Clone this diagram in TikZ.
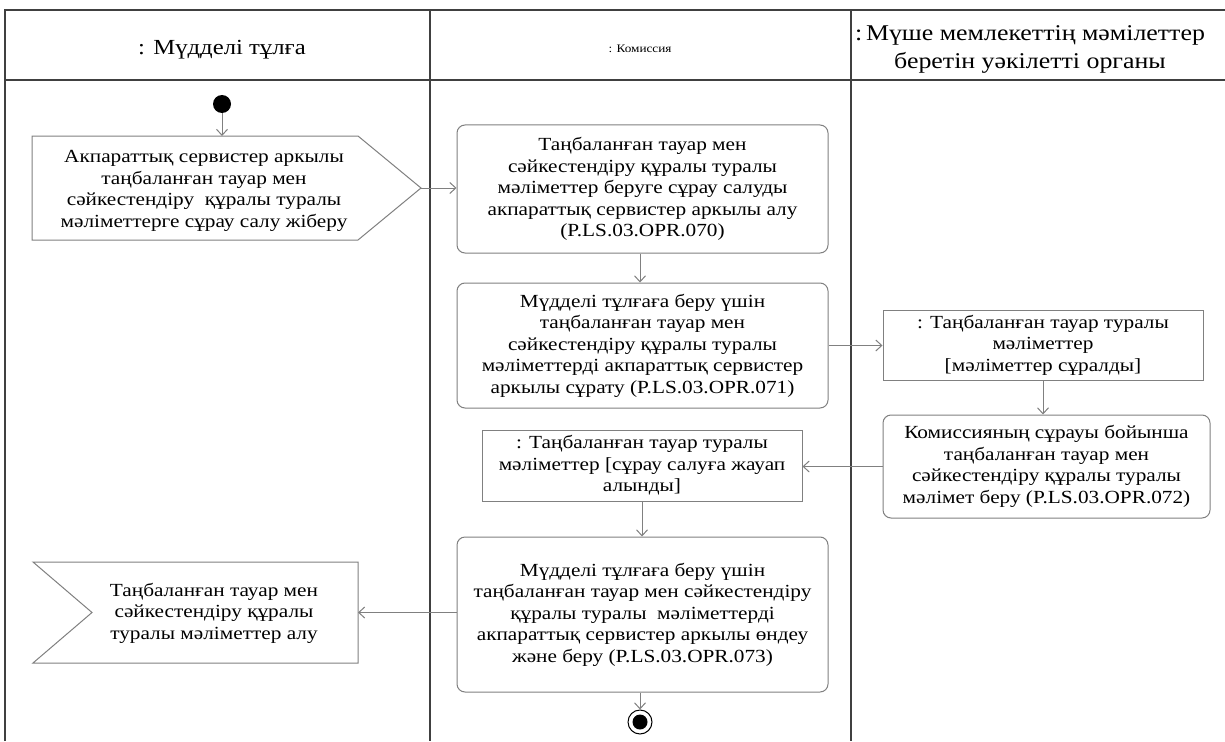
\documentclass[tikz,border=0pt]{standalone}
\usepackage{fontspec}
\setmainfont{Liberation Serif}[FakeStretch=1.15]
\usetikzlibrary{arrows.meta}
\begin{document}
\begin{tikzpicture}[x=1pt,y=-1pt,
  lane/.style={draw=black!75, line width=1.5pt},
  body/.style={align=center, font=\fontsize{18.5}{21.5}\selectfont, inner sep=0pt},
  act/.style={body, draw=black!50, line width=1pt, rounded corners=8pt},
  obj/.style={body, draw=black!50, line width=1pt},
  sig/.style={draw=black!50, line width=1pt},
  flow/.style={draw=black!50, line width=1pt, -{Straight Barb[length=6pt,width=11pt]}},
  hdr/.style={align=center, inner sep=0pt}]
\useasboundingbox (0,0) rectangle (1225,741);
\fill[white] (0,0) rectangle (1225,741);
% swimlane frame
\draw[lane] (5,741) -- (5,10) -- (1225,10);
\draw[lane] (5,80) -- (1225,80);
\draw[lane] (430,10) -- (430,741);
\draw[lane] (851,10) -- (851,741);
% headers
\node[hdr, font=\fontsize{21.5}{26}\selectfont] (h1) at (222,50) {: Мүдделі тұлға};
\node[hdr, font=\fontsize{11.5}{13}\selectfont] (h2) at (640,49) {: Комиссия};
\node[hdr, font=\fontsize{22.5}{28}\selectfont] (h3) at (1030,49) {:\,Мүше мемлекеттің мәмілеттер\\ беретін уәкілетті органы};
% start
\node[circle, fill=black, minimum size=18pt, inner sep=0pt] (start) at (222,104) {};
% send signal
\coordinate (sendtop) at (222,136);
\coordinate (sendtip) at (421,188);
\draw[sig, fill=white] (32,136) -- (358,136) -- (sendtip) -- (358,240) -- (32,240) -- cycle;
\node[body] (sendtxt) at (204,191) {Акпараттық сервистер аркылы\\ таңбаланған тауар мен\\ сәйкестендіру\ \ құралы туралы\\ мәліметтерге сұрау салу жіберу};
% receive signal
\coordinate (recvright) at (358,612.5);
\draw[sig, fill=white] (33,562) -- (358,562) -- (358,663) -- (33,663) -- (92,612.5) -- cycle;
\node[body] (recvtxt) at (214,613) {Таңбаланған тауар мен\\ сәйкестендіру құралы\\ туралы мәліметтер алу};
% activities
\node[act, minimum width=371pt, minimum height=128pt] (a1) at (642.5,189) {Таңбаланған тауар мен\\ сәйкестендіру құралы туралы\\ мәліметтер беруге сұрау салуды\\ акпараттық сервистер аркылы алу\\ (P.LS.03.OPR.070)};
\node[act, minimum width=371pt, minimum height=125pt] (a2) at (642.5,345.5) {Мүдделі тұлғаға беру үшін\\ таңбаланған тауар мен\\ сәйкестендіру құралы туралы\\ мәліметтерді акпараттық сервистер\\ аркылы сұрату (P.LS.03.OPR.071)};
\node[obj, minimum width=320pt, minimum height=70pt] (o1) at (1043,345) {: Таңбаланған тауар туралы\\ мәліметтер\\{}[мәліметтер сұралды]};
\node[act, minimum width=327pt, minimum height=103pt] (a3) at (1046.5,466.5) {Комиссияның сұрауы бойынша\\ таңбаланған тауар мен\\ сәйкестендіру құралы туралы\\ мәлімет беру (P.LS.03.OPR.072)};
\node[obj, minimum width=320pt, minimum height=71pt] (o2) at (642,465.5) {: Таңбаланған тауар туралы\\ мәліметтер [сұрау салуға жауап\\ алынды]};
\node[act, minimum width=371pt, minimum height=155pt] (a4) at (642.5,614.5) {Мүдделі тұлғаға беру үшін\\ таңбаланған тауар мен сәйкестендіру\\ құралы туралы\ \ мәліметтерді\\ акпараттық сервистер аркылы өндеу\\ және беру (P.LS.03.OPR.073)};
% final
\node[circle, draw=black, line width=1pt, fill=white, minimum size=24pt, inner sep=0pt] (final) at (640,722) {};
\node[circle, fill=black, minimum size=15pt, inner sep=0pt] (finalin) at (final.center) {};
% flows
\draw[flow] (start) -- (sendtop);
\draw[flow] (sendtip) -- (sendtip -| a1.west);
\draw[flow] (a1.south -| 640,0) -- (a2.north -| 640,0);
\draw[flow] (a2.east) -- (a2.east -| o1.west);
\draw[flow] (o1.south) -- (o1.south |- a3.north);
\draw[flow] (a3.west) -- (a3.west -| o2.east);
\draw[flow] (o2.south) -- (o2.south |- a4.north);
\draw[flow] (a4.west |- recvright) -- (recvright);
\draw[flow] (a4.south -| final.north) -- (final.north);
\end{tikzpicture}
\end{document}
